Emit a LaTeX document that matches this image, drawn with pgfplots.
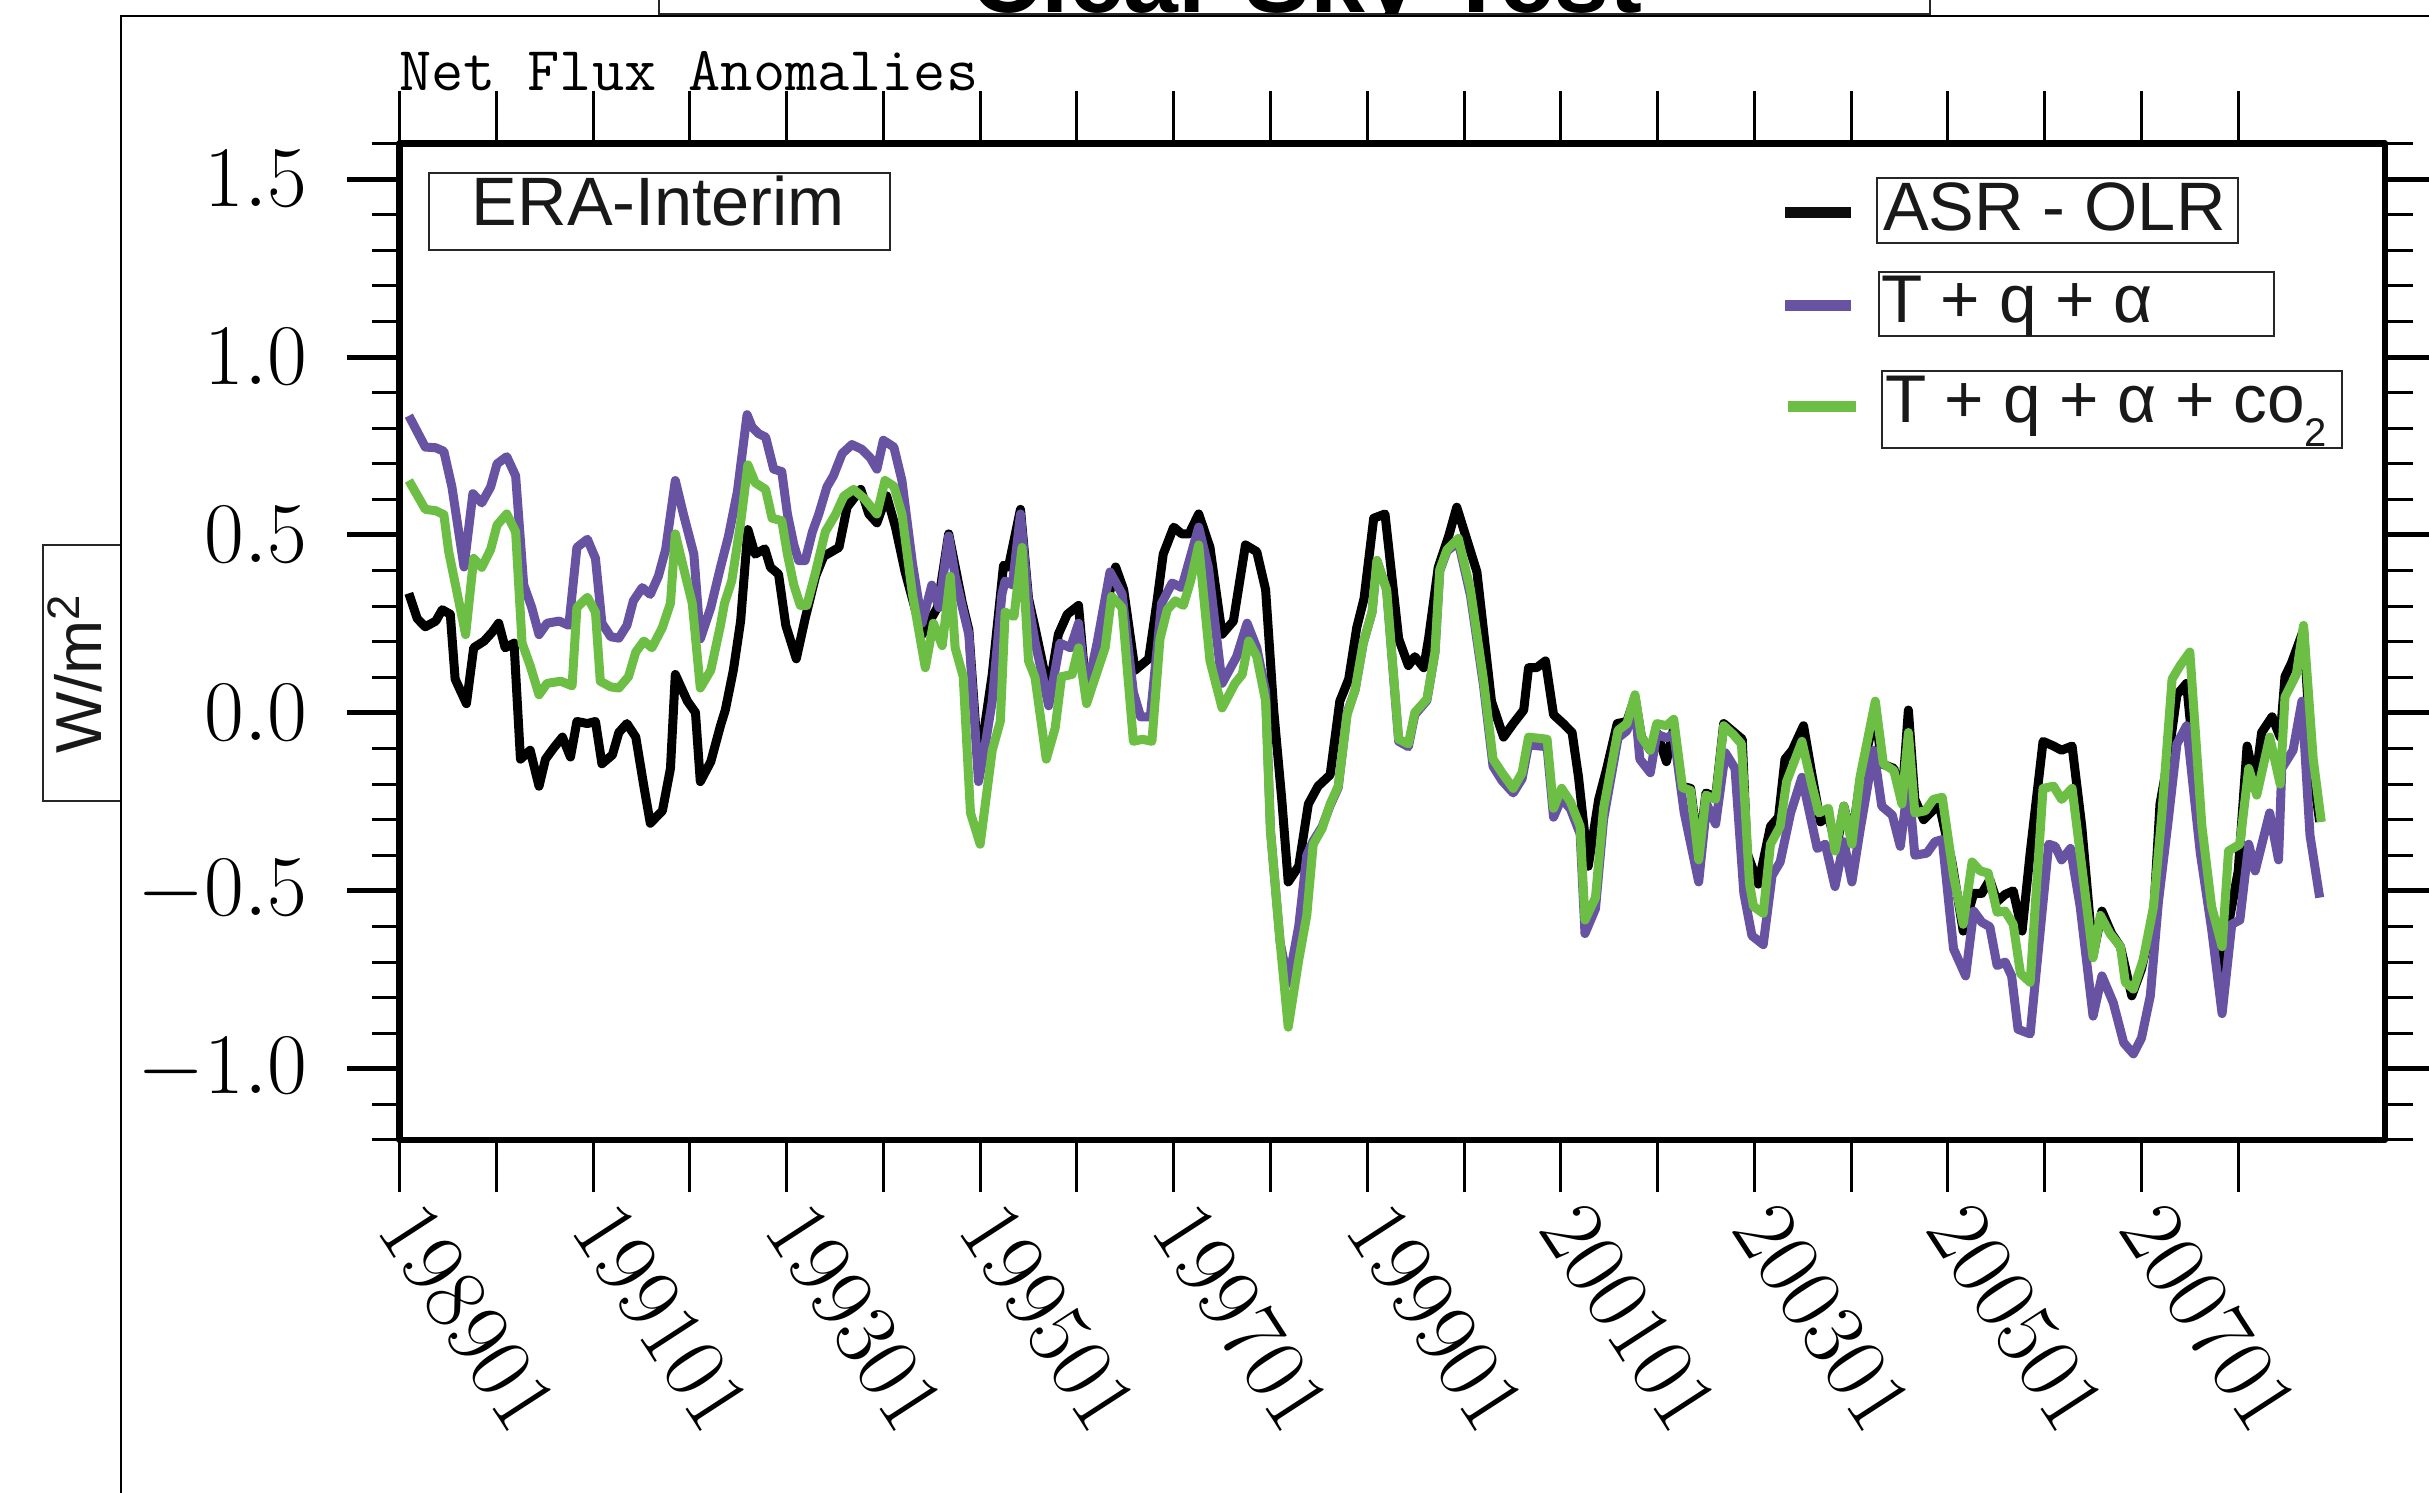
\documentclass[border=0pt]{standalone}
\usepackage{pgfplots}
\pgfplotsset{compat=1.18}
\usepackage{fontspec}
\newfontfamily\helv{Liberation Sans}
\definecolor{cpurple}{RGB}{104,83,163}
\definecolor{cgreen}{RGB}{108,190,69}
\begin{document}
\begin{tikzpicture}
\begin{axis}[
  at={(79.9pt,70.6pt)}, anchor=south west,
  scale only axis, width=397.1pt, height=199.3pt,
  xmin=0, xmax=246.2, ymin=-1.2, ymax=1.6,
  axis line style={line width=1.3pt},
  tick align=outside,
  xtick={0,12,...,228},
  xticklabels={198901,,199101,,199301,,199501,,199701,,199901,,200101,,200301,,200501,,200701,},
  ytick={-1,-0.5,0,0.5,1,1.5},
  yticklabels={$-1.0$,$-0.5$,$0.0$,$0.5$,$1.0$,$1.5$},
  minor ytick={-1.2,-1.1,-0.9,-0.8,-0.7,-0.6,-0.4,-0.3,-0.2,-0.1,0.1,0.2,0.3,0.4,0.6,0.7,0.8,0.9,1.1,1.2,1.3,1.4,1.6},
  major tick length=10.5pt, minor tick length=5.5pt,
  xtick style={line width=0.6pt, black},
  ytick style={line width=1pt, black},
  minor y tick style={line width=0.6pt},
  yticklabel style={font=\fontsize{18}{18}\selectfont, xshift=-4.4pt},
  xticklabel style={font=\fontsize{18}{18}\selectfont, anchor=west, xshift=-1.8pt, yshift=-1.2pt, rotate=-57},
  line join=round,
]
\addplot[black, line width=1.8pt] coordinates {
(1.16,0.336)(2.2,0.265)(3.2,0.242)(4.5,0.258)(5.3,0.29)(6.3,0.277)(6.9,0.095)(8.3,0.026)(9.2,0.183)(10.5,0.202)
(11.5,0.227)(12.3,0.252)(13.1,0.183)(14.2,0.196)(15.0,-0.13)(16.2,-0.105)(17.3,-0.206)(18.1,-0.13)(19.1,-0.099)(20.2,-0.068)
(21.2,-0.124)(22.0,-0.024)(23.3,-0.03)(24.3,-0.024)(25.1,-0.143)(26.4,-0.118)(27.2,-0.055)(28.2,-0.03)(29.3,-0.068)(30.3,-0.206)
(31.1,-0.31)(32.6,-0.275)(33.6,-0.156)(34.2,0.108)(35.7,0.033)(36.7,0.001)(37.3,-0.193)(38.6,-0.137)(39.8,-0.036)(40.4,0.008)
(41.4,0.12)(42.3,0.258)(43.2,0.515)(44.1,0.446)(45.3,0.461)(46.0,0.409)(47.0,0.39)(47.9,0.246)(49.2,0.152)(50.3,0.265)
(51.6,0.384)(52.6,0.44)(54.5,0.465)(55.5,0.578)(57.2,0.628)(58.2,0.559)(59.2,0.534)(60.4,0.61)(61.5,0.522)(62.7,0.396)
(64.8,0.22)(66.7,0.296)(68.1,0.503)(69.8,0.308)(70.6,0.233)(71.8,-0.156)(73.5,0.108)(74.9,0.415)(75.5,0.409)(77.0,0.572)
(78.0,0.321)(78.8,0.24)(80.5,0.058)(81.7,0.221)(82.8,0.277)(84.2,0.302)(85.2,0.045)(86.7,0.208)(88.8,0.41)(89.8,0.346)
(91.2,0.12)(92.9,0.152)(93.9,0.308)(94.7,0.446)(96.0,0.522)(97.0,0.503)(97.9,0.503)(99.1,0.559)(100.5,0.465)(102.0,0.221)
(103.4,0.258)(104.9,0.472)(106.3,0.453)(107.4,0.346)(108.4,0.008)(109.4,-0.243)(110.2,-0.475)(111.5,-0.431)(112.7,-0.256)(113.9,-0.206)
(115.4,-0.174)(116.6,0.033)(117.7,0.095)(118.7,0.24)(119.6,0.321)(120.8,0.547)(122.2,0.559)(123.9,0.208)(125.1,0.133)(125.9,0.158)
(127.0,0.127)(127.6,0.208)(128.8,0.409)(130.1,0.497)(131.1,0.578)(133.6,0.396)(135.4,0.033)(136.9,-0.068)(138.1,-0.03)(139.4,0.008)
(140.0,0.127)(141.0,0.127)(142.1,0.146)(143.1,-0.005)(144.3,-0.03)(145.4,-0.055)(146.2,-0.181)(147.4,-0.431)(148.7,-0.243)(149.7,-0.156)
(151.0,-0.03)(152.2,-0.024)(153.2,0.045)(154.0,-0.068)(155.1,-0.105)(155.9,-0.055)(157.1,-0.137)(158.0,-0.043)(159.0,-0.206)(160.1,-0.212)
(161.1,-0.394)(162.0,-0.225)(163.2,-0.237)(164.2,-0.03)(166.5,-0.074)(167.1,-0.394)(168.5,-0.481)(170.0,-0.319)(171.0,-0.293)(171.8,-0.13)
(172.7,-0.105)(174.1,-0.036)(175.1,-0.168)(176.2,-0.306)(177.2,-0.29)(178.2,-0.381)(179.1,-0.262)(180.1,-0.356)(181.1,-0.19)(183.0,0.0)
(183.8,-0.143)(185.3,-0.156)(186.3,-0.243)(187.1,0.008)(187.9,-0.243)(189.0,-0.3)(190.9,-0.256)(192.5,-0.419)(193.9,-0.613)(195.2,-0.507)
(196.2,-0.507)(197.2,-0.469)(198.1,-0.53)(199.1,-0.51)(200.1,-0.5)(201.2,-0.613)(202.2,-0.394)(203.8,-0.08)(205.1,-0.093)(206.1,-0.105)
(207.4,-0.093)(208.6,-0.319)(210.0,-0.682)(211.1,-0.557)(212.3,-0.62)(213.4,-0.657)(214.8,-0.795)(216.0,-0.72)(217.5,-0.569)(218.3,-0.256)
(219.3,-0.13)(220.4,0.051)(221.6,0.083)(223.5,-0.369)(224.7,-0.569)(226.0,-0.745)(227.0,-0.569)(228.0,-0.444)(229.1,-0.093)(230.1,-0.2)
(230.9,-0.055)(232.2,-0.011)(233.2,-0.068)(233.8,0.102)(234.6,0.14)(236.1,0.233)(237.1,-0.143)(238.1,-0.306)
};
\addplot[cpurple, line width=1.8pt] coordinates {
(1.16,0.835)(3.2,0.747)(4.5,0.745)(5.5,0.735)(6.5,0.635)(8.0,0.41)(9.1,0.616)(10.2,0.59)(11.3,0.635)(12.1,0.70)
(13.3,0.72)(14.4,0.666)(15.4,0.36)(16.4,0.296)(17.3,0.22)(18.3,0.252)(19.8,0.258)(21.0,0.246)(22.0,0.465)(23.3,0.488)
(24.3,0.434)(25.1,0.252)(26.2,0.214)(27.2,0.21)(28.2,0.246)(29.0,0.315)(30.1,0.352)(31.1,0.333)(32.1,0.384)(33.0,0.459)
(34.2,0.653)(35.2,0.559)(36.5,0.446)(37.3,0.208)(38.6,0.296)(39.8,0.409)(40.8,0.497)(41.9,0.622)(43.1,0.838)(43.7,0.804)
(44.5,0.785)(45.4,0.775)(46.4,0.685)(47.4,0.678)(48.1,0.559)(48.9,0.472)(49.5,0.428)(50.3,0.428)(51.2,0.509)(52.0,0.559)
(53.0,0.635)(53.8,0.666)(54.9,0.729)(56.1,0.754)(57.3,0.741)(58.4,0.716)(59.2,0.685)(60.0,0.766)(61.3,0.747)(62.3,0.653)
(63.6,0.421)(64.8,0.252)(66.0,0.359)(66.9,0.296)(68.1,0.497)(68.9,0.384)(69.8,0.296)(70.6,0.22)(71.8,-0.193)(72.6,-0.093)
(73.5,0.033)(74.7,0.334)(75.1,0.371)(76.0,0.36)(77.0,0.559)(78.0,0.308)(78.8,0.2)(79.7,0.108)(80.5,0.02)(81.9,0.196)
(83.2,0.183)(84.2,0.252)(85.2,0.058)(86.5,0.196)(88.1,0.396)(89.6,0.334)(91.0,0.058)(91.9,-0.011)(93.1,-0.011)(94.5,0.308)
(95.8,0.365)(97.0,0.352)(99.1,0.522)(100.3,0.409)(102.0,0.083)(103.8,0.158)(105.1,0.252)(106.3,0.183)(107.4,0.06)(108.0,-0.33)
(109.2,-0.645)(110.2,-0.76)(111.5,-0.6)(112.5,-0.40)(113.3,-0.36)(114.4,-0.32)(115.4,-0.26)(116.4,-0.21)(117.5,0.0)(118.5,0.065)
(119.5,0.196)(120.6,0.283)(121.2,0.428)(122.4,0.346)(123.9,-0.08)(125.1,-0.095)(125.9,-0.005)(127.4,0.035)(128.4,0.17)(129.0,0.40)
(129.9,0.455)(131.3,0.48)(132.8,0.33)(134.4,0.08)(135.6,-0.15)(136.7,-0.19)(138.1,-0.225)(139.2,-0.185)(140.0,-0.09)(142.3,-0.095)
(143.1,-0.293)(144.1,-0.24)(145.2,-0.27)(146.4,-0.34)(147.0,-0.62)(148.3,-0.55)(149.3,-0.3)(151.1,-0.07)(152.2,-0.05)(153.2,0.02)
(153.8,-0.13)(155.1,-0.168)(155.9,-0.06)(157.1,-0.07)(158.0,-0.06)(159.3,-0.28)(161.1,-0.475)(162.1,-0.256)(163.2,-0.312)(164.4,-0.112)
(165.6,-0.156)(166.7,-0.507)(167.7,-0.626)(169.1,-0.651)(170.2,-0.457)(171.2,-0.419)(172.5,-0.281)(173.9,-0.181)(175.8,-0.381)(176.8,-0.369)
(178.0,-0.488)(179.1,-0.362)(180.1,-0.475)(181.1,-0.331)(182.8,-0.105)(183.8,-0.262)(185.1,-0.287)(186.1,-0.375)(187.1,-0.193)(187.9,-0.4)
(189.4,-0.394)(190.4,-0.362)(191.3,-0.356)(192.7,-0.663)(194.2,-0.739)(195.2,-0.557)(196.2,-0.588)(197.2,-0.601)(198.1,-0.71)(199.1,-0.70)
(199.9,-0.739)(200.7,-0.889)(202.2,-0.902)(204.5,-0.369)(205.3,-0.375)(206.1,-0.413)(207.2,-0.381)(208.4,-0.544)(210.0,-0.852)(211.1,-0.739)
(212.5,-0.814)(213.8,-0.927)(215.0,-0.958)(216.0,-0.914)(217.1,-0.795)(218.1,-0.532)(219.3,-0.306)(220.4,-0.087)(221.6,-0.036)(223.3,-0.394)
(224.7,-0.607)(226.0,-0.845)(227.2,-0.594)(228.2,-0.582)(229.3,-0.369)(230.1,-0.444)(231.9,-0.281)(233.0,-0.413)(233.4,-0.156)(234.8,-0.105)
(235.9,0.033)(236.9,-0.344)(238.1,-0.519)
};
\addplot[cgreen, line width=1.8pt] coordinates {
(1.16,0.653)(3.2,0.572)(4.5,0.568)(5.5,0.557)(6.1,0.453)(8.2,0.22)(9.2,0.434)(10.2,0.409)(11.3,0.459)(12.1,0.528)
(13.3,0.559)(14.4,0.509)(15.2,0.196)(16.2,0.133)(17.3,0.051)(18.3,0.083)(20.0,0.089)(21.4,0.076)(22.0,0.296)(23.3,0.325)
(24.3,0.283)(24.9,0.089)(26.2,0.073)(27.2,0.07)(28.4,0.102)(29.3,0.171)(30.3,0.202)(31.3,0.183)(32.6,0.24)(33.6,0.308)
(34.2,0.503)(35.2,0.409)(36.3,0.308)(37.3,0.07)(38.6,0.12)(39.8,0.246)(40.3,0.308)(41.2,0.371)(42.3,0.534)(43.2,0.697)
(44.1,0.647)(45.4,0.628)(46.2,0.547)(47.4,0.54)(48.1,0.446)(48.9,0.359)(49.7,0.302)(50.5,0.302)(51.6,0.396)(52.8,0.509)
(54.1,0.559)(55.1,0.609)(56.3,0.628)(57.6,0.603)(59.2,0.559)(60.2,0.653)(61.3,0.637)(62.3,0.559)(63.6,0.334)(65.2,0.127)
(66.2,0.252)(67.3,0.189)(68.3,0.384)(68.9,0.183)(69.9,0.102)(70.8,-0.281)(72.0,-0.369)(73.5,-0.105)(74.5,-0.024)(75.1,0.283)
(76.2,0.271)(77.2,0.465)(78.0,0.146)(78.8,0.1)(80.2,-0.13)(81.3,-0.043)(82.1,0.102)(83.4,0.108)(84.2,0.183)(85.2,0.026)
(86.3,0.102)(87.5,0.183)(88.3,0.327)(89.6,0.296)(91.0,-0.08)(92.1,-0.074)(93.3,-0.08)(94.3,0.208)(95.2,0.29)(96.2,0.315)
(97.2,0.302)(98.1,0.371)(99.1,0.472)(100.5,0.146)(102.0,0.014)(103.6,0.083)(104.5,0.108)(105.3,0.202)(106.3,0.158)(107.4,0.033)
(108.0,-0.331)(109.2,-0.645)(110.2,-0.883)(111.5,-0.695)(112.5,-0.569)(113.3,-0.369)(114.4,-0.325)(115.4,-0.256)(116.4,-0.206)(117.5,-0.005)
(118.5,0.065)(119.5,0.196)(120.6,0.283)(121.2,0.428)(122.4,0.346)(123.9,-0.074)(125.1,-0.087)(125.9,0.001)(127.4,0.039)(128.4,0.171)
(129.0,0.403)(129.9,0.459)(131.3,0.49)(132.8,0.346)(134.4,0.095)(135.6,-0.13)(136.7,-0.168)(138.1,-0.212)(139.2,-0.168)(140.0,-0.068)
(142.3,-0.074)(143.1,-0.268)(144.1,-0.212)(145.2,-0.25)(146.4,-0.319)(147.0,-0.582)(148.3,-0.519)(149.3,-0.268)(151.1,-0.049)(152.2,-0.03)
(153.2,0.051)(154.0,-0.068)(155.1,-0.105)(155.9,-0.03)(157.1,-0.036)(158.0,-0.018)(159.1,-0.21)(160.1,-0.218)(161.1,-0.413)(162.0,-0.231)
(163.2,-0.243)(164.2,-0.036)(165.4,-0.061)(166.4,-0.087)(167.4,-0.48)(167.9,-0.544)(169.1,-0.563)(170.0,-0.369)(171.2,-0.319)(172.0,-0.193)
(173.9,-0.08)(175.1,-0.2)(176.0,-0.281)(177.2,-0.268)(178.0,-0.388)(179.1,-0.262)(180.1,-0.369)(181.1,-0.181)(183.0,0.033)(184.0,-0.143)
(185.3,-0.162)(186.3,-0.256)(187.1,-0.055)(187.9,-0.281)(189.2,-0.275)(190.2,-0.243)(191.3,-0.237)(192.7,-0.457)(193.9,-0.594)(195.0,-0.419)
(196.0,-0.444)(197.0,-0.45)(198.1,-0.56)(199.1,-0.557)(200.1,-0.594)(201.0,-0.732)(202.2,-0.757)(203.8,-0.212)(205.1,-0.206)(206.1,-0.243)
(207.4,-0.212)(208.6,-0.431)(210.0,-0.688)(210.9,-0.569)(212.1,-0.62)(213.4,-0.657)(214.0,-0.757)(215.0,-0.776)(216.2,-0.695)(217.5,-0.544)
(218.5,-0.293)(219.8,0.095)(220.8,0.133)(222.0,0.171)(223.5,-0.319)(224.7,-0.544)(226.0,-0.657)(226.8,-0.388)(228.2,-0.369)(229.3,-0.156)
(230.3,-0.231)(231.9,-0.068)(233.2,-0.2)(233.8,0.045)(235.2,0.108)(236.1,0.246)(237.3,-0.13)(238.3,-0.306)
};
\end{axis}
% legend
\draw[line width=2.2pt, black!95] (357pt,256.0pt) -- (370.2pt,256.0pt);
\draw[line width=2.2pt, cpurple] (357pt,237.5pt) -- (370.2pt,237.5pt);
\draw[line width=2.2pt, cgreen] (357.6pt,217.2pt) -- (371.2pt,217.2pt);
\draw[line width=0.4pt, black!85] (375.4pt,250.0pt) rectangle (447.6pt,263.0pt);
\draw[line width=0.4pt, black!85] (375.8pt,231.4pt) rectangle (454.8pt,244.2pt);
\draw[line width=0.4pt, black!85] (376.4pt,209.0pt) rectangle (468.4pt,224.4pt);
\node[anchor=base west, inner sep=0pt, text=black!90] at (376.4pt,252.4pt) {\helv\fontsize{13.7}{14}\selectfont ASR - OLR};
\node[anchor=base west, inner sep=0pt, text=black!90] at (376.0pt,234.0pt) {\helv\fontsize{13.5}{14}\selectfont T + q + α};
\node[anchor=base west, inner sep=0pt, text=black!90] at (376.8pt,214.0pt) {\helv\fontsize{13.5}{14}\selectfont T + q + α + co\raisebox{-4.8pt}{\fontsize{8}{8}\selectfont 2}};
% ERA-Interim box
\draw[line width=0.4pt, black!85] (85.8pt,248.6pt) rectangle (178pt,264.0pt);
\node[anchor=base, inner sep=0pt, text=black!90] at (131.7pt,253.4pt) {\helv\fontsize{13.7}{14}\selectfont ERA-Interim};
% Net Flux Anomalies
\node[anchor=base west, inner sep=0pt] at (79.6pt,280.5pt) {\ttfamily\fontsize{12.5}{13}\selectfont Net Flux Anomalies};
% W/m2 box
\draw[line width=0.4pt, black!85] (8.6pt,138.4pt) rectangle (24.2pt,189.6pt);
\node[rotate=90, inner sep=0pt, text=black!90] at (15pt,164pt) {\helv\fontsize{13}{14}\selectfont W/m\textsuperscript{2}};
% frame and title
\draw[line width=0.5pt] (24.2pt,-10pt) -- (24.2pt,295.4pt) -- (500pt,295.4pt);
\draw[line width=0.4pt, black!85] (131.8pt,320pt) -- (131.8pt,295.8pt) -- (386pt,295.8pt) -- (386pt,320pt);
\begin{scope}
\clip (0pt,295.8pt) rectangle (485.8pt,320pt);
\node[anchor=base, inner sep=0pt] at (261.3pt,296pt) {\helv\bfseries\fontsize{19.7}{20}\selectfont Clear Sky Test};
\end{scope}
\pgfresetboundingbox
\path[use as bounding box] (0pt,0pt) rectangle (485.8pt,298.6pt);
\end{tikzpicture}
\end{document}
